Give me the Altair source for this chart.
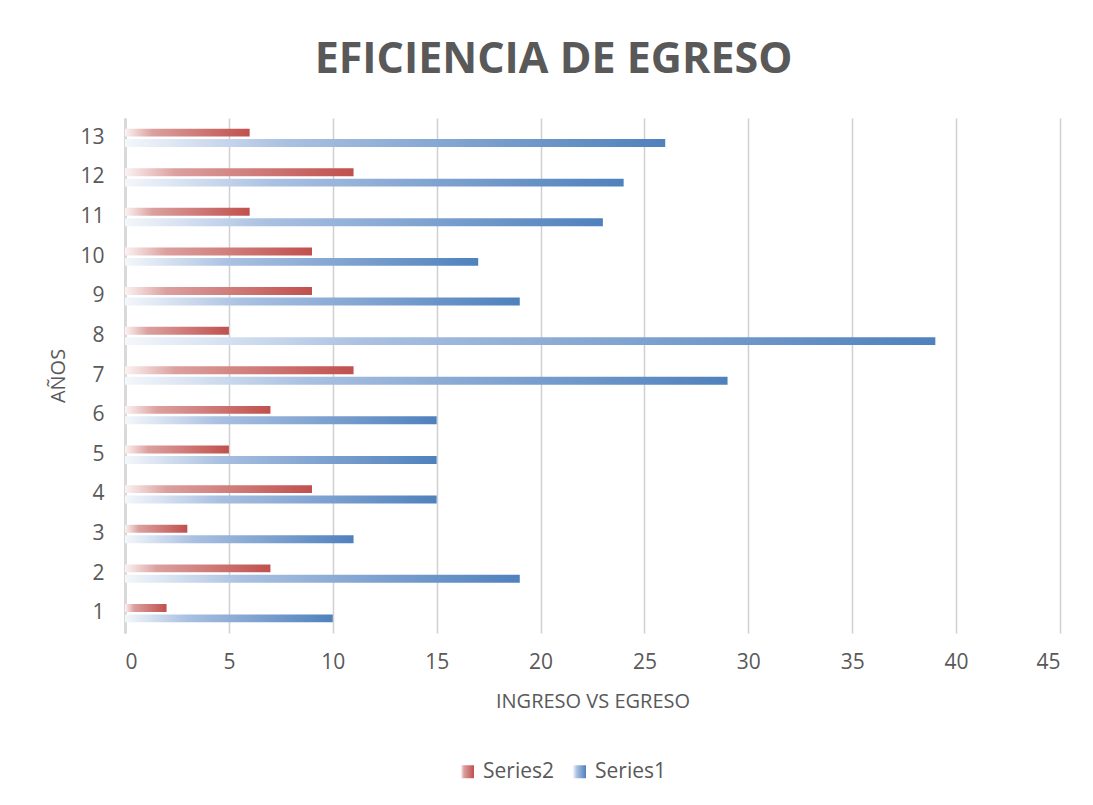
import altair as alt
import pandas as pd

years = list(range(1, 14))
series1 = [10, 19, 11, 15, 15, 15, 29, 39, 19, 17, 23, 24, 26]
series2 = [2, 7, 3, 9, 5, 7, 11, 5, 9, 9, 6, 11, 6]
series_names = ["Series2", "Series1"]
x_ticks = [0, 5, 10, 15, 20, 25, 30, 35, 40, 45]

rows = []
for y, a, b in zip(years, series1, series2):
    rows.append({"year": y, "series": "Series1", "value": a})
    rows.append({"year": y, "series": "Series2", "value": b})
df = pd.DataFrame(rows)

red_grad = ("{gradient:'linear',x1:0,y1:0,x2:1,y2:0,stops:["
            "{offset:0,color:'#fbf2f2'},{offset:0.22,color:'#dba09e'},"
            "{offset:1,color:'#c0504d'}]}")
blue_grad = ("{gradient:'linear',x1:0,y1:0,x2:1,y2:0,stops:["
             "{offset:0,color:'#f4f7fb'},{offset:0.3,color:'#a9c0e1'},"
             "{offset:1,color:'#4f81bd'}]}")

grey = "#595959"

chart = alt.Chart(df).mark_bar().encode(
    x=alt.X("value:Q",
            scale=alt.Scale(domain=[0, 45], nice=False, zero=True),
            axis=alt.Axis(values=x_ticks, title="INGRESO VS EGRESO", grid=True,
                          gridColor="#d0d0d0", gridWidth=1.5, domain=False,
                          ticks=False, labelPadding=18, titlePadding=19,
                          labelFontSize=21, titleFontSize=20,
                          titleFontWeight="normal", labelColor=grey, titleColor=grey)),
    y=alt.Y("year:O", sort="descending",
            scale=alt.Scale(paddingInner=0.3, paddingOuter=0.15),
            axis=alt.Axis(title="AÑOS", domain=True, domainColor="#d9d9d9",
                          domainWidth=3, ticks=False, labelPadding=21,
                          titlePadding=11, labelFontSize=21, titleFontSize=20,
                          titleFontWeight="normal", labelColor=grey, titleColor=grey)),
    yOffset=alt.YOffset("series:N", sort=series_names,
                        scale=alt.Scale(paddingInner=0.24, paddingOuter=0.45)),
    color=alt.Color("series:N",
                    scale=alt.Scale(domain=series_names,
                                    range=[alt.ExprRef(expr=red_grad),
                                           alt.ExprRef(expr=blue_grad)]),
                    legend=alt.Legend(title=None, orient="none", direction="horizontal",
                                      legendX=332, legendY=643, symbolType="square",
                                      symbolSize=169, labelFontSize=21,
                                      labelColor=grey, columnPadding=15,
                                      labelOffset=5, symbolStrokeWidth=0)),
).properties(
    width=935,
    height=515,
    title=alt.TitleParams("EFICIENCIA DE EGRESO", fontSize=43, fontWeight="bold",
                          color=grey, anchor="middle", dx=-39, offset=36,
                          font="Open Sans"),
    autosize=alt.AutoSizeParams(type="none"),
    padding={"left": 117, "top": 110, "right": 25, "bottom": 164},
).configure(
    font="Open Sans",
).configure_view(
    stroke=None,
)

chart.save("out.html", embed_options={"renderer": "svg", "actions": False})
